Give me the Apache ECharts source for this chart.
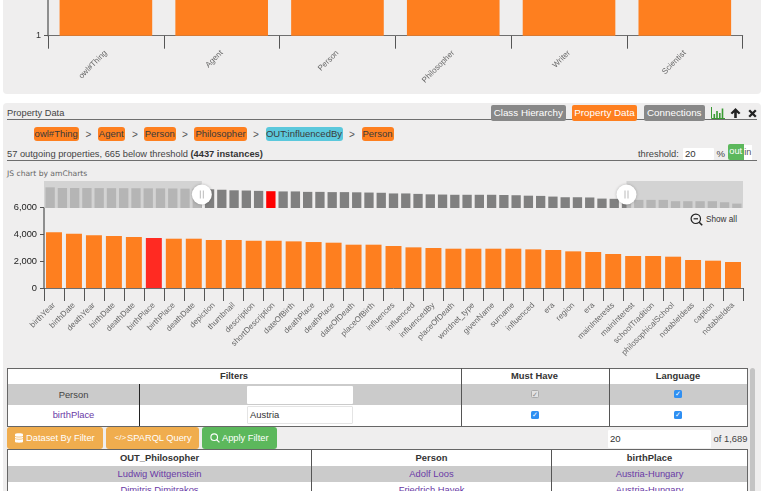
<!DOCTYPE html>
<html><head><meta charset="utf-8">
<script src="https://cdn.jsdelivr.net/npm/echarts@6/dist/echarts.min.js"></script>
<style>
html,body{margin:0;padding:0;width:764px;height:491px;overflow:hidden;background:#fff;font-family:"Liberation Sans",Arial,sans-serif;color:#333}
#ui{position:absolute;left:0;top:0;width:764px;height:491px;overflow:hidden}
#ui div,#ui span.a{position:absolute;white-space:nowrap;box-sizing:border-box}
.panel{background:#efeeee;border-radius:4px;left:3px;width:758px}
.rule{background:#6e6e6e;height:1px;left:7px;width:750px}
.chip{background:#fe7f1f;border-radius:3px;height:14px;line-height:14px;text-align:center;font-size:9.5px;color:#3a3a3a;top:127px}
.sep{font-size:10px;color:#555;top:128px;line-height:14px}
.tab{top:105px;height:16px;line-height:15px;text-align:center;color:#fff;font-size:9.8px;background:#888;border-radius:2px}
.line{background:#555}
.cell{text-align:center;font-size:9.4px;line-height:14px;color:#444}
.b{font-weight:bold;color:#333}
.lnk{color:#6a3aa6}
.box{background:#fff;border-radius:1px}
.btn{top:426.5px;height:22.5px;border-radius:3px;color:#fff;font-size:9.3px;line-height:22px;background:#f0ad4e}
.chk{width:7.5px;height:7.5px;border-radius:1.5px;background:#2f8ff2;color:#fff;font-size:6.5px;line-height:7.5px;text-align:center}
</style></head>
<body>
<div id="ui">
  <div class="panel" style="top:-10px;height:104px"></div>
  <div class="panel" style="top:102.5px;height:400px"></div>

  <div style="left:7px;top:106.5px;font-size:9.3px;line-height:13px;color:#444">Property Data</div>
  <div class="rule" style="top:119px"></div>
  <div class="tab" style="left:491px;width:74.5px">Class Hierarchy</div>
  <div class="tab" style="left:572px;width:65px;background:#fe7f1f">Property Data</div>
  <div class="tab" style="left:644px;width:60.5px">Connections</div>
  <svg style="position:absolute;left:711px;top:107px" width="14" height="12" viewBox="0 0 14 12"><path d="M0.5 0V11.5H14" stroke="#3a9a34" fill="none"/><path d="M2.5 7h1.6v4H2.5zM5.2 4h1.6v7H5.2zM8 6h1.6v5H8zM10.7 1.5h1.6V11h-1.6z" fill="#3a9a34"/></svg>
  <svg style="position:absolute;left:730px;top:108px" width="11" height="10" viewBox="0 0 11 10"><path d="M5.5 0L10.5 5 8.8 6.3 6.8 4.4V10H4.2V4.4L2.2 6.3.5 5z" fill="#222"/></svg>
  <svg style="position:absolute;left:748px;top:109px" width="9" height="9" viewBox="0 0 9 9"><path d="M1.2 1.2L7.8 7.8M7.8 1.2L1.2 7.8" stroke="#222" stroke-width="2.3"/></svg>

  <div class="chip" style="left:33.5px;width:45.5px">owl#Thing</div><div class="sep" style="left:85.5px">&gt;</div>
  <div class="chip" style="left:97.5px;width:27.5px">Agent</div><div class="sep" style="left:132px">&gt;</div>
  <div class="chip" style="left:144px;width:31.5px">Person</div><div class="sep" style="left:182px">&gt;</div>
  <div class="chip" style="left:194px;width:53px">Philosopher</div><div class="sep" style="left:253px">&gt;</div>
  <div class="chip" style="left:265.5px;width:77px;background:#5bc8dc">OUT:influencedBy</div><div class="sep" style="left:349px">&gt;</div>
  <div class="chip" style="left:361.5px;width:32px">Person</div>

  <div style="left:7px;top:146.5px;font-size:9.3px;line-height:14px;color:#444">57 outgoing properties, 665 below threshold <b style="color:#333">(4437 instances)</b></div>
  <div style="left:638px;top:146.5px;font-size:9.3px;line-height:14px;color:#444">threshold:</div>
  <div class="box" style="left:683px;top:147.5px;width:31px;height:12.5px"></div>
  <div style="left:685px;top:146.5px;font-size:9.6px;line-height:14px;color:#333">20</div>
  <div style="left:716.5px;top:146.5px;font-size:9.6px;line-height:14px;color:#444">%</div>
  <div style="left:728px;top:144px;width:15.5px;height:16px;background:#5cb85c;border-radius:2px 0 0 2px;color:#fff;font-size:9.2px;line-height:15px;text-align:center">out</div>
  <div style="left:743.5px;top:144.5px;width:8.5px;height:15.5px;background:#fff;font-size:9.2px;line-height:15px;text-align:center;color:#555">in</div>
  <div class="rule" style="top:160px"></div>

  <div style="left:7px;top:167.5px;font-size:7.6px;line-height:11px;color:#666;font-family:'DejaVu Sans',sans-serif">JS chart by amCharts</div>

  <svg style="position:absolute;left:690px;top:213px" width="13" height="14" viewBox="0 0 13 14"><circle cx="5.8" cy="5.8" r="4.7" fill="none" stroke="#222" stroke-width="1.2"/><path d="M3.6 5.8h4.4" stroke="#222" stroke-width="1.2"/><path d="M9.2 9.2l3 3" stroke="#222" stroke-width="1.6"/></svg>
  <div style="left:706px;top:212.5px;font-size:8.2px;line-height:13px;color:#333">Show all</div>

  <!-- filter table -->
  <div style="left:7px;top:367.5px;width:741px;height:59px;background:#fff;border:1px solid #666"></div>
  <div style="left:8px;top:383.5px;width:739px;height:21.5px;background:#cbcbcb"></div>
  <div class="line" style="left:139px;top:383.5px;width:1px;height:42.5px;background:#222"></div>
  <div class="line" style="left:460.5px;top:368px;width:1px;height:58px"></div>
  <div class="line" style="left:608.5px;top:368px;width:1px;height:58px"></div>
  <div class="cell b" style="left:8px;width:452px;top:368.5px">Filters</div>
  <div class="cell b" style="left:461px;width:147px;top:368.5px">Must Have</div>
  <div class="cell b" style="left:609px;width:138px;top:368.5px">Language</div>
  <div class="cell" style="left:8px;width:131px;top:387.5px">Person</div>
  <div class="cell lnk" style="left:8px;width:131px;top:408px">birthPlace</div>
  <div class="box" style="left:247px;top:385.5px;width:106px;height:18px"></div>
  <div class="box" style="left:247px;top:406px;width:106px;height:18px;border:1px solid #e4e4e4"></div>
  <div style="left:250px;top:408px;font-size:9.4px;line-height:14px;color:#333">Austria</div>
  <div class="chk" style="left:531px;top:390px;background:#e2e2e2;color:#888;border:.5px solid #aaa">✓</div>
  <div class="chk" style="left:531px;top:411px">✓</div>
  <div class="chk" style="left:674px;top:390px">✓</div>
  <div class="chk" style="left:674px;top:411px">✓</div>

  <!-- action row -->
  <div class="btn" style="left:7px;width:96px"></div>
  <svg style="position:absolute;left:15px;top:433px" width="8" height="10" viewBox="0 0 8 10"><path d="M0 1.2C0 0 8 0 8 1.2V8.8C8 10 0 10 0 8.8z" fill="#fff"/><path d="M0 3.4C1.5 4.3 6.5 4.3 8 3.4M0 5.6C1.5 6.5 6.5 6.5 8 5.6" stroke="#f0ad4e" stroke-width=".7" fill="none"/></svg>
  <div class="btn" style="left:26px;background:none">Dataset By Filter</div>
  <div class="btn" style="left:106px;width:93px"></div>
  <div class="btn" style="left:114.5px;background:none;font-size:8px">&lt;/&gt;</div>
  <div class="btn" style="left:127px;background:none">SPARQL Query</div>
  <div class="btn" style="left:202px;width:75px;background:#5cb85c"></div>
  <svg style="position:absolute;left:210px;top:433px" width="10" height="10" viewBox="0 0 10 10"><circle cx="4.2" cy="4.2" r="3.3" fill="none" stroke="#fff" stroke-width="1.1"/><path d="M6.6 6.6l2.8 2.8" stroke="#fff" stroke-width="1.3"/></svg>
  <div class="btn" style="left:222px;background:none">Apply Filter</div>
  <div class="box" style="left:607.5px;top:430px;width:103px;height:17.5px"></div>
  <div style="left:610px;top:431.5px;font-size:9.6px;line-height:14px;color:#333">20</div>
  <div style="left:713.5px;top:431.5px;font-size:9.4px;line-height:14px;color:#444">of 1,689</div>

  <!-- result table -->
  <div style="left:7px;top:449px;width:741px;height:60px;background:#fff;border:1px solid #666"></div>
  <div style="left:8px;top:465.5px;width:739px;height:16.5px;background:#cbcbcb"></div>
  <div class="line" style="left:311px;top:450px;width:1px;height:41px"></div>
  <div class="line" style="left:551px;top:450px;width:1px;height:41px"></div>
  <div class="cell b" style="left:8px;width:303px;top:450.5px">OUT_Philosopher</div>
  <div class="cell b" style="left:312px;width:239px;top:450.5px">Person</div>
  <div class="cell b" style="left:552px;width:195px;top:450.5px">birthPlace</div>
  <div class="cell lnk" style="left:8px;width:303px;top:466.5px">Ludwig Wittgenstein</div>
  <div class="cell lnk" style="left:312px;width:239px;top:466.5px">Adolf Loos</div>
  <div class="cell lnk" style="left:552px;width:195px;top:466.5px">Austria-Hungary</div>
  <div class="cell lnk" style="left:8px;width:303px;top:482.5px">Dimitris Dimitrakos</div>
  <div class="cell lnk" style="left:312px;width:239px;top:482.5px">Friedrich Hayek</div>
  <div class="cell lnk" style="left:552px;width:195px;top:482.5px">Austria-Hungary</div>
  <div style="left:750px;top:367.5px;width:5px;height:140px;background:#c4c4c4;border-radius:3px"></div>
</div>
<div id="c" style="position:absolute;left:0;top:0;width:764px;height:491px;pointer-events:none"></div>
<script>
var classLabels = ["owl#Thing","Agent","Person","Philosopher","Writer","Scientist"];
var classCounts = [4437,4437,4437,4437,4437,4437];
var propLabels = ["birthYear","birthDate","deathYear","birthDate","deathDate","birthPlace","birthPlace","deathDate","depiction","thumbnail","description","shortDescription","dateOfBirth","deathPlace","deathPlace","dateOfDeath","placeOfBirth","influences","influenced","influencedBy","placeOfDeath","wordnet_type","givenName","surname","influenced","era","region","era","mainInterests","mainInterest","schoolTradition","philosophicalSchool","notableIdeas","caption","notableIdea"];
var propCounts = [4157,4058,3933,3884,3809,3734,3684,3684,3585,3585,3530,3530,3485,3435,3385,3236,3236,3137,3037,2987,2937,2937,2937,2937,2888,2838,2738,2688,2539,2390,2390,2340,2091,2041,1942];
var leadingCounts = [4590,4440,4440,4430,4420,4410,4400,4390,4370,4360,4340,4300,4250];
var trailingCounts = [1805,1805,1805,1505,1505,1505,1505,1280,980];
var selectedIndex = 5;
var selection = [12.87,47.5];
var overviewCounts = leadingCounts.concat(propCounts, trailingCounts);

var AX = '#6e6e6e', TK = '#555';
var ovL = 44, ovW = 699, ovT = 181, ovH = 27;
var step = ovW / overviewCounts.length;
var selL = ovL + selection[0] * step, selR = ovL + selection[1] * step;

function handle(x){
  return {type:'group', x:x, y:194.5, children:[
    {type:'circle', z:50, shape:{r:10}, style:{fill:'#fff', shadowBlur:3, shadowColor:'rgba(0,0,0,.25)'}},
    {type:'rect', z:51, shape:{x:-2,y:-4,width:1,height:8}, style:{fill:'#bbb'}},
    {type:'rect', z:51, shape:{x:1,y:-4,width:1,height:8}, style:{fill:'#bbb'}}
  ]};
}

var chart = echarts.init(document.getElementById('c'), null, {renderer:'canvas', width:764, height:491});
chart.setOption({
  animation:false,
  backgroundColor:'transparent',
  grid:[
    {left:48, width:694.7, top:-200, height:235.7, outerBoundsMode:'none'},
    {left:44, width:699, top:207.7, height:80.3, outerBoundsMode:'none'},
    {left:ovL, width:ovW, top:ovT, height:ovH, outerBoundsMode:'none'}
  ],
  xAxis:[
    {gridIndex:0, type:'category', data:classLabels,
      axisLine:{lineStyle:{color:AX,width:1}}, axisTick:{show:true,length:13,lineStyle:{color:TK}},
      axisLabel:{rotate:45,interval:0,fontSize:8,color:'#666',margin:16,fontFamily:'Liberation Sans'}},
    {gridIndex:1, type:'category', data:propLabels,
      axisLine:{lineStyle:{color:AX,width:1}}, axisTick:{show:true,length:13,lineStyle:{color:TK}},
      axisLabel:{rotate:45,interval:0,fontSize:8,color:'#666',margin:16,fontFamily:'Liberation Sans'}},
    {gridIndex:2, type:'category', show:false, data:overviewCounts.map(function(_,i){return i;})}
  ],
  yAxis:[
    {gridIndex:0, type:'log', min:1, max:10000, splitLine:{show:false},
      axisLine:{show:true,lineStyle:{color:AX,width:1.5}}, axisTick:{show:true,length:4,lineStyle:{color:TK}}, minorTick:{show:false},
      axisLabel:{fontSize:9,color:'#333',margin:7,fontFamily:'Liberation Sans'}},
    {gridIndex:1, type:'value', min:0, max:6000, interval:2000, splitLine:{show:false},
      axisLine:{show:true,lineStyle:{color:AX,width:1.5}}, axisTick:{show:true,length:4,lineStyle:{color:TK}},
      axisLabel:{fontSize:9.3,color:'#222',margin:7,fontFamily:'Liberation Sans'}},
    {gridIndex:2, type:'value', show:false, min:0, max:6000}
  ],
  series:[
    {type:'bar', xAxisIndex:0, yAxisIndex:0, data:classCounts, barCategoryGap:'20%', itemStyle:{color:'#fe7f1f'}},
    {type:'bar', xAxisIndex:1, yAxisIndex:1, barCategoryGap:'20%',
      data:propCounts.map(function(v,i){return {value:v,itemStyle:{color:i===selectedIndex?'#ff2a22':'#fe7f1f'}};})},
    {type:'bar', xAxisIndex:2, yAxisIndex:2, barCategoryGap:'24%',
      data:overviewCounts.map(function(v,i){return {value:v,itemStyle:{color:i===selectedIndex+leadingCounts.length?'#ff0000':'#808080'}};})}
  ],
  graphic:[
    {type:'rect', z:40, shape:{x:ovL,y:ovT,width:selL-ovL,height:ovH}, style:{fill:'rgba(200,200,200,.73)'}},
    {type:'rect', z:40, shape:{x:selR,y:ovT,width:ovL+ovW-selR,height:ovH}, style:{fill:'rgba(200,200,200,.73)'}},
    handle(selL), handle(selR)
  ]
});
</script>
</body></html>
